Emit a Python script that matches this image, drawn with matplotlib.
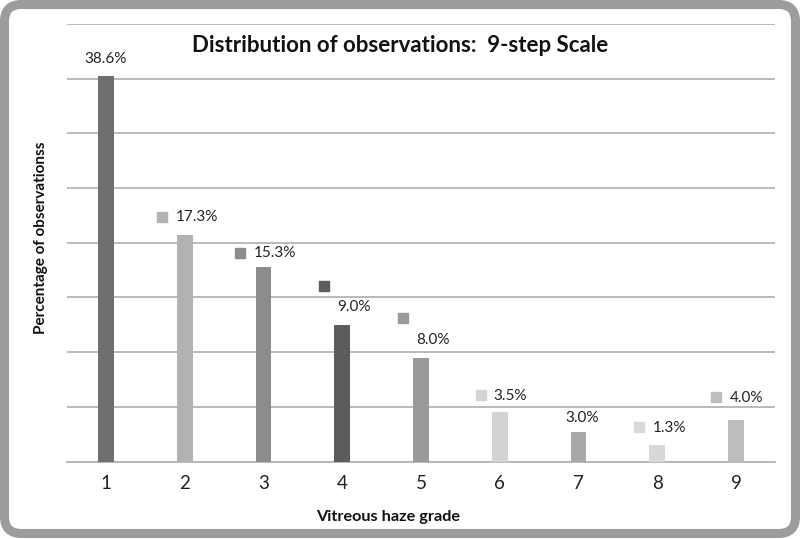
import matplotlib
matplotlib.use("Agg")
import matplotlib.pyplot as plt
from matplotlib.patches import FancyBboxPatch
from matplotlib.transforms import offset_copy

# ---- data ----
grades = ["1", "2", "3", "4", "5", "6", "7", "8", "9"]
bar_heights = [35.25, 20.75, 17.75, 12.5, 9.5, 4.5, 2.7, 1.5, 3.75]
value_labels = ["38.6%", "17.3%", "15.3%", "9.0%", "8.0%", "3.5%", "3.0%", "1.3%", "4.0%"]
bar_colors = ["#6e6e6e", "#b2b2b2", "#8c8c8c", "#5c5c5c", "#9a9a9a",
              "#d3d3d3", "#a9a9a9", "#d8d8d8", "#bdbdbd"]
title = "Distribution of observations:  9-step Scale"
xlabel = "Vitreous haze grade"
ylabel = "Percentage of observationss"

# label layout (pixel offsets from bar top centre): text x, text y, alignment; square (dx, dy) or None
text_off = [(0, 16.5, "center"), (-9.3, 17.3, "left"), (-9.4, 14.6, "left"),
            (-4.6, 17.4, "left"), (-5, 17.7, "left"), (-6, 16.6, "left"),
            (3.7, 14.4, "center"), (-4.7, 16.7, "left"), (-6, 22.6, "left")]
square_off = [None, (-23, 17.3), (-23, 14.6), (-18.3, 39.2), (-18, 39.4),
              (-18.3, 17.3), None, (-18, 18.3), (-20.3, 23)]

plt.rcParams["font.family"] = ["Lato", "DejaVu Sans"]

fig = plt.figure(figsize=(8, 5.39), dpi=100)
ax = fig.add_axes([66.6 / 800, 1 - 461.5 / 539, (775.4 - 66.6) / 800, (461.5 - 24) / 539])

x = list(range(len(grades)))
ax.bar(x, bar_heights, width=0.2, color=bar_colors, zorder=3)
ax.set_xlim(-0.5, len(grades) - 0.5)
ax.set_ylim(0, 40)
ax.set_yticks(range(0, 41, 5))
ax.set_yticklabels([])
ax.tick_params(axis="y", length=0)
ax.tick_params(axis="x", length=0, pad=10, labelsize=13.5, labelcolor="#222222")
ax.set_xticks(x)
ax.set_xticklabels(grades)
ax.grid(axis="y", color="#b4b4b4", linewidth=1.3, zorder=0)
for s in ["top", "right", "left"]:
    ax.spines[s].set_visible(False)
ax.spines["bottom"].set_color("#b4b4b4")
ax.spines["bottom"].set_linewidth(1.3)

for i in x:
    h = bar_heights[i]
    dx, dy, ha = text_off[i]
    ax.annotate(value_labels[i], xy=(i, h), xytext=(dx, dy), textcoords="offset pixels",
                ha=ha, va="center", fontsize=11, color="#222222", zorder=5)
    if square_off[i] is not None:
        sdx, sdy = square_off[i]
        tr = offset_copy(ax.transData, fig=fig, x=sdx, y=sdy, units="dots")
        ax.plot([i], [h], marker="s", markersize=6.5, color=bar_colors[i],
                linestyle="none", transform=tr, zorder=5, clip_on=False)

fig.text(400 / 800, 1 - 45.7 / 539, title, ha="center", va="center",
         fontsize=16, fontweight="bold", color="#111111")
fig.text(388 / 800, 1 - 516.7 / 539, xlabel, ha="center", va="center",
         fontsize=11.7, fontweight="bold", color="#111111")
fig.text(41 / 800, 1 - 238 / 539, ylabel, ha="center", va="center", rotation=90,
         fontsize=11, fontweight="bold", color="#111111")

frame = FancyBboxPatch((0.045, 0.055), 8 - 0.09, 5.39 - 0.1,
                       boxstyle="round,pad=0,rounding_size=0.17",
                       transform=fig.dpi_scale_trans, facecolor="none",
                       edgecolor="#9c9c9c", linewidth=6.5, zorder=10)
fig.patches.append(frame)

fig.savefig("out.png", dpi=100)
